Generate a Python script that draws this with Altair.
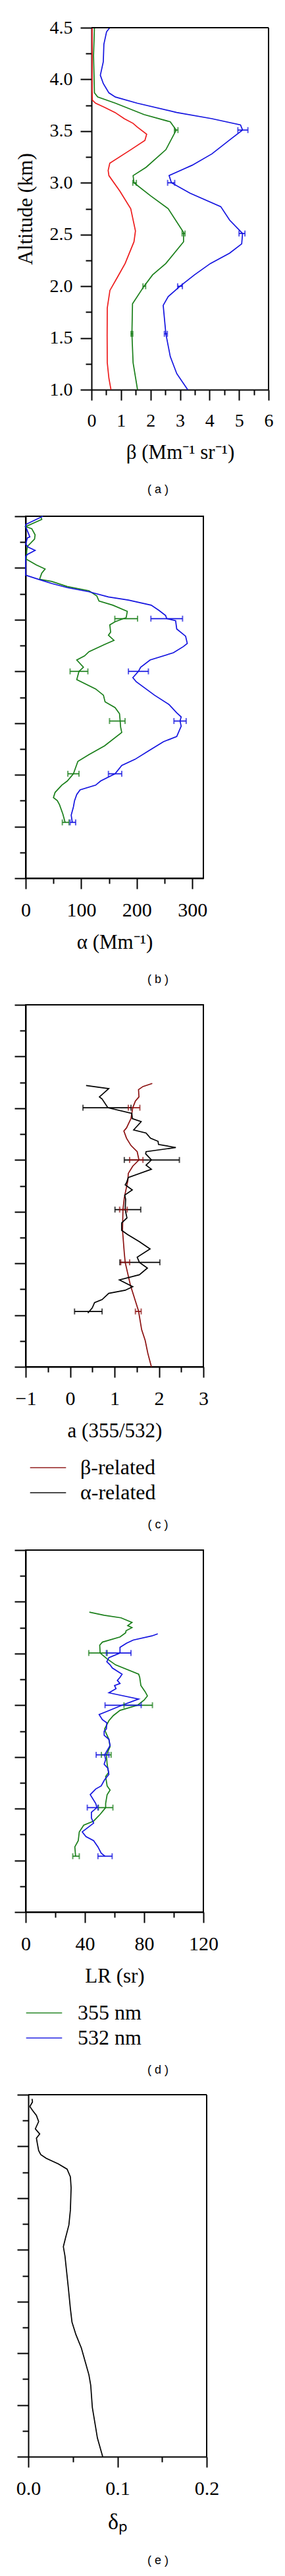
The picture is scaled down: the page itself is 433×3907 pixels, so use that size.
import json
import altair as alt
import pandas as pd

# ---------------- data ----------------
# Panel (a): backscatter beta (Mm-1 sr-1)
A_RED_ALT = [4.5, 4.2, 3.9, 3.8, 3.77, 3.73, 3.68, 3.62, 3.575, 3.54, 3.47, 3.41, 3.32, 3.19, 3.12, 3.07, 2.92, 2.75,
             2.535, 2.43, 2.22, 2.09, 1.96, 1.79, 1.52, 1.26, 1.11, 1.0]
A_RED_VAL = [0.02, 0.02, 0.02, 0.03, 0.14, 0.44, 0.8, 1.11, 1.41, 1.55, 1.87, 1.81, 1.33, 0.62, 0.565, 0.59, 0.96, 1.33,
             1.49, 1.44, 1.14, 0.885, 0.625, 0.535, 0.53, 0.535, 0.59, 0.66]
A_GRN_ALT = [4.5, 4.23, 3.87, 3.83, 3.77, 3.66, 3.59, 3.51, 3.32, 3.15, 3.07, 3.0, 2.875, 2.75, 2.52, 2.43, 2.22, 2.11,
             2.0, 1.83, 1.54, 1.26, 1.0]
A_GRN_VAL = [0.10, 0.07, 0.10, 0.21, 0.81, 1.78, 2.67, 2.87, 2.52, 1.85, 1.41, 1.44, 2.0, 2.6, 3.12, 3.12, 2.52, 2.07,
             1.78, 1.39, 1.37, 1.41, 1.56]
A_BLU_ALT = [4.5, 4.46, 4.34, 4.17, 4.04, 3.96, 3.87, 3.83, 3.77, 3.68, 3.62, 3.56, 3.51, 3.43, 3.28, 3.17, 3.07, 3.0,
             2.90, 2.77, 2.64, 2.51, 2.41, 2.32, 2.22, 2.11, 2.0, 1.90, 1.815, 1.54, 1.32, 1.155, 1.0]
A_BLU_VAL = [0.62, 0.51, 0.42, 0.40, 0.30, 0.40, 0.59, 0.81, 1.55, 2.89, 4.08, 5.05, 5.12, 4.75, 4.08, 3.41, 2.63, 2.71,
             3.34, 4.38, 4.68, 5.12, 5.09, 4.68, 4.03, 3.49, 3.0, 2.6, 2.43, 2.52, 2.67, 2.89, 3.26]
A_ERR_ALT = [3.51, 3.0, 2.51, 2.0, 1.54]
A_ERR_BLU_C = [5.13, 2.70, 5.10, 3.0, 2.52]
A_ERR_BLU_H = [0.17, 0.12, 0.10, 0.08, 0.05]
A_ERR_GRN_C = [2.87, 1.46, 3.12, 1.79, 1.37]
A_ERR_GRN_H = [0.06, 0.06, 0.05, 0.045, 0.03]

# Panel (b): extinction alpha (Mm-1)
B_BLU_ALT = [4.50, 4.42, 4.40, 4.30, 4.29, 4.23, 4.20, 4.17, 4.13, 4.11, 3.93, 3.89, 3.85, 3.81, 3.77, 3.72, 3.69, 3.64,
             3.59, 3.54, 3.51, 3.49, 3.41, 3.34, 3.27, 3.24, 3.18, 3.11, 3.04, 3.0, 2.94, 2.90, 2.77, 2.68, 2.60, 2.56,
             2.52, 2.47, 2.37, 2.32, 2.23, 2.15, 2.09, 2.01, 1.94, 1.90, 1.855, 1.81, 1.75, 1.69, 1.61, 1.54]
B_BLU_VAL = [31, 0, 0, 7.5, 3, 0, 5, 17, 3, 0, 0, 23, 47, 75, 114, 149, 185, 226,
             240, 252, 254, 270, 272, 288, 291, 284, 266, 224, 207, 203, 193, 199, 232, 258, 272, 280,
             278, 280, 272, 248, 221, 197, 173, 161, 135, 126, 98, 92, 88, 86, 82, 84]
B_GRN_ALT = [4.50, 4.47, 4.40, 4.38, 4.32, 4.28, 4.21, 4.17, 4.085, 4.03, 3.99, 3.95, 3.89, 3.87, 3.82, 3.78, 3.73,
             3.68, 3.64, 3.58, 3.52, 3.48, 3.45, 3.38, 3.35, 3.30, 3.26, 3.19, 3.15, 3.11, 3.04, 3.0, 2.92, 2.83, 2.77,
             2.705, 2.65, 2.59, 2.53, 2.46, 2.41, 2.28, 2.195, 2.13, 2.01, 1.94, 1.90, 1.83, 1.78, 1.75, 1.71, 1.62, 1.54]
B_GRN_VAL = [27, 29, 0, 11, 17, 16, 3.5, 2, 1, 19, 35, 29, 25, 47, 75, 114, 128,
             132, 157, 183, 181, 161, 151.5, 153, 149, 159, 142, 114, 106, 92, 104, 96, 92, 126, 140,
             143, 161, 169, 170, 171, 173, 142, 114, 94, 86, 75, 65, 53, 50, 57, 61, 67, 71]
B_ERR_ALT = [3.51, 3.0, 2.52, 2.01, 1.54]
B_ERR_BLU_C = [254, 203, 278, 161, 85]
B_ERR_BLU_H = [28.5, 18, 11, 12, 5]
B_ERR_GRN_C = [181, 96, 165, 86, 72]
B_ERR_GRN_H = [20.5, 16, 14, 10, 6]

# Panel (c): Angstrom exponent a (355/532)
C_BLK_ALT = [3.72, 3.69, 3.61, 3.59, 3.505, 3.45, 3.40, 3.37, 3.29, 3.26, 3.21, 3.18, 3.15, 3.12, 3.08, 3.06, 3.0,
             2.95, 2.91, 2.83, 2.78, 2.76, 2.71, 2.66, 2.62, 2.52, 2.44, 2.39, 2.32, 2.28, 2.21, 2.14, 2.06, 2.01,
             1.955, 1.89, 1.84, 1.775, 1.74, 1.71, 1.65, 1.62, 1.57, 1.52]
C_BLK_VAL = [0.36, 0.87, 0.66, 0.72, 0.85, 1.39, 1.40, 1.60, 1.43, 1.71, 1.81, 1.98, 1.99, 2.38, 1.71, 1.70, 1.83,
             1.71, 1.83, 1.31, 1.27, 1.24, 1.40, 1.23, 1.25, 1.24, 1.28, 1.16, 1.16, 1.29, 1.56, 1.80, 1.51, 1.56,
             1.74, 1.56, 1.11, 1.41, 1.24, 0.87, 0.72, 0.55, 0.50, 0.40]
C_RED_ALT = [3.74, 3.71, 3.68, 3.61, 3.57, 3.505, 3.40, 3.31, 3.28, 3.21, 3.14, 3.08, 3.0, 2.94, 2.87, 2.80, 2.635,
             2.52, 2.32, 2.10, 2.01, 1.785, 1.54, 1.36, 1.255, 1.13, 1.0]
C_RED_VAL = [1.85, 1.64, 1.54, 1.55, 1.47, 1.41, 1.37, 1.27, 1.21, 1.27, 1.37, 1.51, 1.55, 1.41, 1.31, 1.30, 1.22,
             1.19, 1.18, 1.22, 1.24, 1.36, 1.54, 1.61, 1.69, 1.75, 1.83]
C_ERR_ALT = [3.505, 3.0, 2.52, 2.01, 1.535]
C_ERR_BLK_C = [0.83, 1.84, 1.30, 1.57, 0.41]
C_ERR_BLK_H = [0.54, 0.62, 0.29, 0.45, 0.31]
C_ERR_RED_C = [1.44, 1.49, 1.20, 1.24, 1.535]
C_ERR_RED_H = [0.13, 0.15, 0.085, 0.10, 0.065]

# Panel (d): lidar ratio LR (sr)
D_GRN_ALT = [3.90, 3.87, 3.845, 3.80, 3.77, 3.75, 3.72, 3.70, 3.66, 3.61, 3.58, 3.505, 3.45, 3.39, 3.30, 3.27, 3.19,
             3.13, 3.09, 3.05, 3.0, 2.95, 2.90, 2.85, 2.77, 2.74, 2.67, 2.60, 2.52, 2.43, 2.35, 2.31, 2.22, 2.18,
             2.135, 2.05, 2.01, 1.945, 1.88, 1.84, 1.775, 1.69, 1.63, 1.54]
D_GRN_VAL = [43, 53, 64.4, 71.8, 68.9, 71.8, 67.8, 67.5, 63.7, 51.8, 50, 50.3, 54.8, 60.7, 76.3, 77, 77.8,
             80.7, 82.2, 80, 75.6, 63.7, 59.2, 56.2, 53.3, 54, 56.2, 57, 54.5, 55, 56, 54, 55, 57,
             55, 54, 54, 50.3, 45.9, 39.2, 36.2, 35.5, 33.2, 33.7]
D_BLU_ALT = [3.69, 3.67, 3.63, 3.60, 3.56, 3.505, 3.46, 3.42, 3.39, 3.36, 3.30, 3.27, 3.24, 3.21, 3.19, 3.16, 3.12,
             3.06, 3.0, 2.94, 2.91, 2.86, 2.83, 2.77, 2.75, 2.71, 2.67, 2.61, 2.52, 2.475, 2.43, 2.39, 2.33, 2.28,
             2.22, 2.19, 2.135, 2.05, 2.01, 1.965, 1.91, 1.86, 1.775, 1.73, 1.69, 1.63, 1.57, 1.54]
D_BLU_VAL = [89.2, 85.2, 72.6, 68.1, 63.7, 63.7, 56.2, 54.8, 57, 58.5, 65.1, 63.7, 61.9, 63.7, 60, 61, 56.2,
             76.3, 65.1, 54.8, 49.6, 51.8, 54.8, 54.5, 53, 53, 56.2, 57, 53.3, 54, 53, 55.5, 56.2, 53.3,
             51, 47.3, 43.6, 47.3, 48.1, 44.4, 44.4, 45.9, 38.2, 40.7, 45.9, 48.8, 51, 53.6]
D_ERR_ALT = [3.505, 3.0, 2.52, 2.01, 1.54]
D_ERR_GRN_C = [48.8, 76, 54.4, 54, 34]
D_ERR_GRN_H = [6.2, 9.6, 3.3, 4.9, 2.2]
D_ERR_BLU_C = [62.8, 65.8, 51.9, 45.2, 53.6]
D_ERR_BLU_H = [8.3, 12.2, 4.3, 3.6, 4.8]

# Panel (e): particle depolarization ratio
E_ALT = [4.46, 4.43, 4.385, 4.34, 4.30, 4.24, 4.17, 4.12, 4.08, 4.02, 3.96, 3.92, 3.885, 3.83, 3.78, 3.705, 3.60,
         3.385, 3.24, 3.11, 3.03, 2.94, 2.64, 2.43, 2.30, 2.18, 2.05, 1.90, 1.79, 1.69, 1.475, 1.31, 1.18, 1.0]
E_VAL = [0.0042, 0.0047, 0.0017, 0.0054, 0.0091, 0.0116, 0.0079, 0.0128, 0.0091, 0.0103, 0.0116, 0.014, 0.0201,
         0.0337, 0.0435, 0.0472, 0.048, 0.0472, 0.0455, 0.0416, 0.0393, 0.0411, 0.0448, 0.0472, 0.049, 0.0534,
         0.0595, 0.0644, 0.068, 0.070, 0.0718, 0.075, 0.0775, 0.0834]

# axis ticks
Y_DOMAIN = [1.0, 4.5]
Y_TICKS = [1.0, 1.25, 1.5, 1.75, 2.0, 2.25, 2.5, 2.75, 3.0, 3.25, 3.5, 3.75, 4.0, 4.25, 4.5]
Y_MAJOR = [1.0, 1.5, 2.0, 2.5, 3.0, 3.5, 4.0, 4.5]
XA_TICKS = [0, 0.5, 1, 1.5, 2, 2.5, 3, 3.5, 4, 4.5, 5, 5.5, 6]
XA_MAJOR = [0, 1, 2, 3, 4, 5, 6]
XB_TICKS = [0, 50, 100, 150, 200, 250, 300]
XB_MAJOR = [0, 100, 200, 300]
XC_TICKS = [-1, -0.5, 0, 0.5, 1, 1.5, 2, 2.5, 3]
XC_MAJOR = [-1, 0, 1, 2, 3]
XD_TICKS = [0, 20, 40, 60, 80, 100, 120]
XD_MAJOR = [0, 40, 80, 120]
XE_TICKS = [0, 0.05, 0.1, 0.15, 0.2]
XE_MAJOR = [0, 0.1, 0.2]

GREEN = "#1a7f1a"
BLUE = "#1414e0"
RED = "#ee1c1c"
DARKRED = "#8b1010"
BLACK = "#000000"
SERIF = "Liberation Serif"
W, H = 270, 549
A_SHIFT = 100   # panel (a) is drawn 100 px further right than panels (b)-(d)
E_SHIFT = 4     # panel (e) is drawn 4 px further right


def line_df(alts, vals, series):
    return pd.DataFrame({"alt": alts, "val": vals, "series": series, "idx": list(range(len(alts)))})


def err_df(alts, cs, hs, series):
    return pd.DataFrame({"alt": alts, "lo": [c - h for c, h in zip(cs, hs)],
                         "hi": [c + h for c, h in zip(cs, hs)], "series": series})


def is_major(major):
    return f"indexof({json.dumps(major)}, datum.value) >= 0"


def cond(major, big, small):
    return {"condition": {"test": is_major(major), "value": big}, "value": small}


def y_axis(labels, offset=0):
    if labels:
        return alt.Axis(values=Y_TICKS, tickSize=cond(Y_MAJOR, 17, 9),
                        labelExpr=f"{is_major(Y_MAJOR)} ? format(datum.value, '.1f') : ''",
                        labelFontSize=28, labelPadding=12, title="Altitude (km)", titleFontSize=31,
                        titlePadding=20, labelOverlap=False, offset=offset)
    return alt.Axis(values=Y_TICKS, tickSize=cond(Y_MAJOR, 17, 9), labels=False, title=None, offset=offset)


def x_axis(ticks, major, fmt, title, lsize=30, tsize=31):
    return alt.Axis(values=ticks, tickSize=cond(major, 16, 8),
                    labelExpr=f"{is_major(major)} ? format(datum.value, '{fmt}') : ''",
                    labelFontSize=lsize, labelPadding=17, labelFlush=False, labelOverlap=False,
                    title=title, titleFontSize=tsize, titlePadding=19)


def panel(lines, errs, xdom, xaxis, yaxis, colors, legend, caption, cap_dx, cap_offset,
          width=W, shift=0):
    if shift:
        xs = alt.Scale(domain=xdom, nice=False, zero=False, range=[shift, width])
    else:
        xs = alt.Scale(domain=xdom, nice=False, zero=False)
    ys = alt.Scale(domain=Y_DOMAIN, nice=False, zero=False)
    cs = alt.Scale(domain=list(colors.keys()), range=list(colors.values()))
    base_l = alt.Chart(lines).mark_line(strokeWidth=1.7).encode(
        x=alt.X("val:Q", scale=xs, axis=xaxis),
        y=alt.Y("alt:Q", scale=ys, axis=yaxis),
        color=alt.Color("series:N", scale=cs, legend=legend),
        order=alt.Order("idx:Q"),
        detail="series:N",
    )
    layers = [base_l]
    if errs is not None:
        rules = alt.Chart(errs).mark_rule(strokeWidth=1.7).encode(
            x=alt.X("lo:Q", scale=xs, axis=xaxis),
            x2="hi:Q",
            y=alt.Y("alt:Q", scale=ys, axis=yaxis),
            color=alt.Color("series:N", scale=cs, legend=legend),
        )
        caps = alt.Chart(errs).transform_fold(["lo", "hi"], as_=["end", "xv"]).mark_tick(
            orient="vertical", size=9, thickness=2).encode(
            x=alt.X("xv:Q", scale=xs, axis=xaxis),
            y=alt.Y("alt:Q", scale=ys, axis=yaxis),
            color=alt.Color("series:N", scale=cs, legend=legend),
        )
        layers += [rules, caps]
    props = dict(
        width=width, height=H,
        title=alt.TitleParams(caption, orient="bottom", anchor="middle", frame="group", dx=cap_dx,
                              offset=cap_offset, font="Liberation Sans", fontSize=18, fontWeight="normal",
                              color="black"),
    )
    if shift:
        # frame lines (top and right) at the edges of the data domain
        top = alt.Chart(pd.DataFrame({"x0": [xdom[0]], "x1": [xdom[1]], "y": [Y_DOMAIN[1]]})).mark_rule(
            color="black", strokeWidth=2).encode(
            x=alt.X("x0:Q", scale=xs, axis=xaxis), x2="x1:Q", y=alt.Y("y:Q", scale=ys, axis=yaxis))
        right = alt.Chart(pd.DataFrame({"x": [xdom[1]], "y0": [Y_DOMAIN[0]], "y1": [Y_DOMAIN[1]]})).mark_rule(
            color="black", strokeWidth=2).encode(
            x=alt.X("x:Q", scale=xs, axis=xaxis), y=alt.Y("y0:Q", scale=ys, axis=yaxis), y2="y1:Q")
        layers += [top, right]
        props["view"] = alt.ViewBackground(strokeOpacity=0)
    return alt.layer(*layers).properties(**props)


def legend(x, y, off):
    return alt.Legend(orient="none", legendX=x, legendY=y, direction="vertical", title=None,
                      symbolType="M-1.3,0L1.3,0", symbolSize=1764, symbolStrokeWidth=2,
                      labelFont=SERIF, labelFontSize=32, labelOffset=off, padding=0, rowPadding=0,
                      labelLimit=0, labelColor="black")


# panel a
la = pd.concat([line_df(A_RED_ALT, A_RED_VAL, "r"), line_df(A_GRN_ALT, A_GRN_VAL, "g"),
                line_df(A_BLU_ALT, A_BLU_VAL, "b")])
ea = pd.concat([err_df(A_ERR_ALT, A_ERR_GRN_C, A_ERR_GRN_H, "g"), err_df(A_ERR_ALT, A_ERR_BLU_C, A_ERR_BLU_H, "b")])
pa = panel(la, ea, [0, 6], x_axis(XA_TICKS, XA_MAJOR, "d", "β (Mm⁻¹ sr⁻¹)", lsize=28),
           y_axis(True, offset=-A_SHIFT), {"r": RED, "g": GREEN, "b": BLUE}, None, "( a )", 16.5, 33,
           width=269 + A_SHIFT, shift=A_SHIFT)

# panel b
lb = pd.concat([line_df(B_GRN_ALT, B_GRN_VAL, "g"), line_df(B_BLU_ALT, B_BLU_VAL, "b")])
eb = pd.concat([err_df(B_ERR_ALT, B_ERR_GRN_C, B_ERR_GRN_H, "g"), err_df(B_ERR_ALT, B_ERR_BLU_C, B_ERR_BLU_H, "b")])
pb = panel(lb, eb, [0, 320], x_axis(XB_TICKS, XB_MAJOR, "d", "α (Mm⁻¹)"),
           y_axis(False), {"g": GREEN, "b": BLUE}, None, "( b )", 66, 33)

# panel c
lc = pd.concat([line_df(C_RED_ALT, C_RED_VAL, "β-related"), line_df(C_BLK_ALT, C_BLK_VAL, "α-related")])
ec = pd.concat([err_df(C_ERR_ALT, C_ERR_BLK_C, C_ERR_BLK_H, "α-related"),
                err_df(C_ERR_ALT, C_ERR_RED_C, C_ERR_RED_H, "β-related")])
pc = panel(lc, ec, [-1, 3], x_axis(XC_TICKS, XC_MAJOR, "d", "a (355/532)"),
           y_axis(False), {"β-related": DARKRED, "α-related": BLACK}, legend(12, 680, 27), "( c )", 66, 24)

# panel d
ld = pd.concat([line_df(D_GRN_ALT, D_GRN_VAL, "355 nm"), line_df(D_BLU_ALT, D_BLU_VAL, "532 nm")])
ed = pd.concat([err_df(D_ERR_ALT, D_ERR_GRN_C, D_ERR_GRN_H, "355 nm"),
                err_df(D_ERR_ALT, D_ERR_BLU_C, D_ERR_BLU_H, "532 nm")])
pd_ = panel(ld, ed, [0, 120], x_axis(XD_TICKS, XD_MAJOR, "d", "LR (sr)"),
            y_axis(False), {"355 nm": GREEN, "532 nm": BLUE}, legend(6, 680, 29), "( d )", 66, 24)

# panel e
le = line_df(E_ALT, E_VAL, "d")
pe = panel(le, None, [0, 0.2], x_axis(XE_TICKS, XE_MAJOR, ".1f", "δₚ", tsize=34),
           y_axis(False, offset=-E_SHIFT), {"d": BLACK}, None, "( e )", 63.5, 33,
           width=271 + E_SHIFT, shift=E_SHIFT)

chart = alt.vconcat(pa, pb, pc, pd_, pe, spacing=26).properties(
    padding={"left": 12, "top": 20, "right": 5, "bottom": 5},
    background="white",
).resolve_scale(
    x="independent", y="independent", color="independent"
).resolve_axis(x="independent", y="independent").resolve_legend(color="independent").configure_view(
    stroke="black", strokeWidth=2).configure_axis(
    domainColor="black", domainWidth=2, tickColor="black", tickWidth=2, grid=False,
    labelColor="black", titleColor="black", labelFont=SERIF, titleFont=SERIF, titleFontWeight="normal",
)

chart.save("out.html", embed_options={"renderer": "svg", "actions": False})
